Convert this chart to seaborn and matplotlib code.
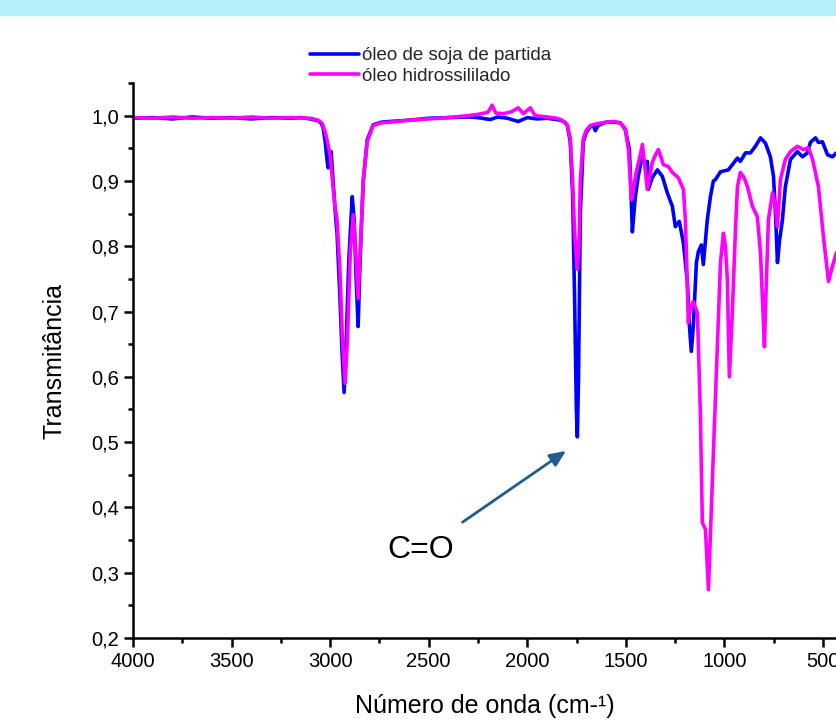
import numpy as np
import pandas as pd
import matplotlib.pyplot as plt
import seaborn as sns
from matplotlib.patches import Rectangle
from matplotlib.ticker import MultipleLocator

# espectro FTIR - óleo de soja de partida (azul)
wn_soja = [4000, 3900, 3800, 3700, 3600, 3500, 3400, 3300, 3200, 3152, 3100, 3060, 3045, 3036,
           3025, 3015, 3010, 3003, 2995, 2985, 2975, 2965, 2950, 2940, 2929, 2918, 2905, 2888,
           2878, 2868, 2858, 2848, 2832, 2812, 2782, 2740, 2700, 2600, 2500, 2400, 2300, 2250,
           2188, 2150, 2100, 2046, 2000, 1950, 1900, 1850, 1830, 1810, 1797, 1782, 1770, 1760,
           1751, 1746, 1740, 1731, 1716, 1700, 1680, 1665, 1655, 1640, 1600, 1560, 1528, 1503,
           1482, 1472, 1467, 1452, 1437, 1416, 1401, 1391, 1386, 1366, 1340, 1315, 1290, 1264,
           1249, 1229, 1208, 1188, 1178, 1168, 1158, 1142, 1132, 1117, 1107, 1087, 1071, 1056,
           1046, 1020, 980, 934, 919, 893, 868, 843, 817, 792, 767, 751, 741, 731, 720, 706, 691,
           665, 630, 604, 579, 564, 538, 523, 503, 477, 452, 432]
t_soja = [0.996, 0.997, 0.995, 0.998, 0.996, 0.997, 0.995, 0.997, 0.996, 0.997, 0.995, 0.992,
          0.988, 0.982, 0.96, 0.93, 0.92, 0.935, 0.945, 0.9, 0.856, 0.82, 0.72, 0.64, 0.576,
          0.66, 0.78, 0.876, 0.84, 0.75, 0.677, 0.78, 0.9, 0.963, 0.986, 0.99, 0.991, 0.993,
          0.996, 0.997, 0.998, 0.997, 0.994, 0.998, 0.996, 0.991, 0.997, 0.995, 0.996, 0.994,
          0.993, 0.99, 0.985, 0.96, 0.88, 0.72, 0.55, 0.508, 0.6, 0.85, 0.96, 0.975, 0.983,
          0.985, 0.977, 0.985, 0.99, 0.99, 0.989, 0.979, 0.948, 0.867, 0.822, 0.876, 0.907,
          0.94, 0.922, 0.93, 0.887, 0.905, 0.917, 0.907, 0.882, 0.861, 0.83, 0.838, 0.805,
          0.745, 0.68, 0.639, 0.677, 0.775, 0.792, 0.802, 0.772, 0.84, 0.876, 0.9, 0.902, 0.914,
          0.917, 0.935, 0.93, 0.943, 0.943, 0.953, 0.966, 0.958, 0.937, 0.907, 0.85, 0.775,
          0.81, 0.84, 0.891, 0.933, 0.945, 0.937, 0.943, 0.959, 0.966, 0.959, 0.96, 0.94,
          0.937, 0.943]

# espectro FTIR - óleo hidrossililado (magenta)
wn_hidro = [4000, 3900, 3800, 3700, 3600, 3500, 3400, 3300, 3200, 3100, 3060, 3040, 3025, 3010,
            3000, 2985, 2975, 2965, 2950, 2938, 2924, 2912, 2898, 2883, 2872, 2858, 2848, 2832,
            2812, 2782, 2740, 2700, 2600, 2500, 2400, 2300, 2250, 2200, 2178, 2160, 2120, 2080,
            2046, 2020, 1985, 1960, 1900, 1850, 1830, 1810, 1797, 1782, 1770, 1760, 1746, 1738,
            1731, 1716, 1700, 1680, 1640, 1600, 1560, 1528, 1503, 1487, 1477, 1472, 1462, 1450,
            1430, 1416, 1405, 1391, 1380, 1366, 1350, 1335, 1320, 1310, 1284, 1264, 1234, 1208,
            1198, 1190, 1183, 1173, 1158, 1137, 1122, 1112, 1096, 1081, 1061, 1036, 1020, 1005,
            995, 985, 975, 960, 944, 934, 919, 900, 883, 858, 833, 817, 797, 790, 777, 756, 741,
            731, 716, 691, 665, 630, 599, 574, 553, 523, 498, 472, 447, 432]
t_hidro = [0.997, 0.996, 0.998, 0.996, 0.997, 0.996, 0.998, 0.996, 0.997, 0.996, 0.993, 0.988,
           0.975, 0.955, 0.94, 0.89, 0.86, 0.84, 0.76, 0.66, 0.59, 0.66, 0.79, 0.848, 0.8, 0.72,
           0.79, 0.9, 0.96, 0.985, 0.989, 0.99, 0.993, 0.995, 0.997, 1.0, 1.002, 1.005, 1.016,
           1.004, 1.003, 1.006, 1.012, 1.003, 1.012, 1.0, 0.998, 0.996, 0.994, 0.99, 0.986,
           0.965, 0.9, 0.82, 0.765, 0.8, 0.9, 0.965, 0.978, 0.985, 0.988, 0.99, 0.991, 0.989,
           0.98, 0.948, 0.9, 0.871, 0.885, 0.91, 0.935, 0.956, 0.925, 0.887, 0.905, 0.928, 0.94,
           0.948, 0.935, 0.925, 0.922, 0.913, 0.905, 0.887, 0.84, 0.76, 0.683, 0.705, 0.715,
           0.698, 0.545, 0.377, 0.366, 0.274, 0.443, 0.646, 0.775, 0.82, 0.8, 0.749, 0.6, 0.698,
           0.825, 0.891, 0.913, 0.905, 0.891, 0.861, 0.845, 0.79, 0.646, 0.72, 0.84, 0.882,
           0.861, 0.83, 0.902, 0.933, 0.945, 0.953, 0.948, 0.951, 0.933, 0.891, 0.815, 0.746,
           0.775, 0.79]

series_names = ["óleo de soja de partida", "óleo hidrossililado"]
series_colors = ["#0000ff", "#ff00ff"]

xticks = [4000, 3500, 3000, 2500, 2000, 1500, 1000, 500]
yticks = [0.2, 0.3, 0.4, 0.5, 0.6, 0.7, 0.8, 0.9, 1.0]
ytick_labels = ["0,2", "0,3", "0,4", "0,5", "0,6", "0,7", "0,8", "0,9", "1,0"]

df = pd.concat([
    pd.DataFrame({"wn": wn_soja, "T": t_soja, "amostra": series_names[0]}),
    pd.DataFrame({"wn": wn_hidro, "T": t_hidro, "amostra": series_names[1]}),
])

sns.set_theme(style="ticks")
plt.rcParams["font.family"] = ["Liberation Sans", "DejaVu Sans"]

W, H = 836, 721
fig = plt.figure(figsize=(W / 100, H / 100), dpi=100)
ax = fig.add_axes([133 / W, 1 - 638 / H, 1 - 133 / W, (638 - 83) / H])

sns.lineplot(data=df, x="wn", y="T", hue="amostra", palette=series_colors,
             linewidth=2.6, sort=False, ax=ax, legend=False)

ax.set_xlim(4000, 434)
ax.set_ylim(0.2, 1.05)
ax.set_xticks(xticks)
ax.set_xticklabels([str(v) for v in xticks])
ax.set_yticks(yticks)
ax.set_yticklabels(ytick_labels)
ax.xaxis.set_minor_locator(MultipleLocator(250))
ax.yaxis.set_minor_locator(MultipleLocator(0.05))
ax.tick_params(which="major", length=6.5, width=1.8, labelsize=14.5, color="black", labelcolor="black")
ax.tick_params(which="minor", length=3.5, width=1.8, color="black")
for s in ["top", "right"]:
    ax.spines[s].set_visible(False)
for s in ["left", "bottom"]:
    ax.spines[s].set_linewidth(1.8)
    ax.spines[s].set_color("black")

ax.set_xlabel("Número de onda (cm-¹)", fontsize=18, labelpad=17, color="black")
ax.set_ylabel("Transmitância", fontsize=18, labelpad=18, color="black")

# anotação da carbonila
ax.annotate("", xy=(1792, 0.489), xytext=(2340, 0.375),
            arrowprops=dict(arrowstyle="-|>,head_length=0.8,head_width=0.35",
                            color="#1f5c8f", lw=2))
ax.text(2543, 0.335, "C=O", fontsize=23, ha="center", va="center", color="black")

lines = ax.get_lines()
fig.legend(lines[:2], series_names, loc="upper left", bbox_to_anchor=(310 / W, 1 - 47 / H),
           frameon=False, fontsize=13.5, handlelength=2.6, handletextpad=0.2,
           labelspacing=0.2, borderpad=0, borderaxespad=0)

# faixa azul no topo
fig.patches.append(Rectangle((0, 1 - 15 / H), 1, 15 / H, transform=fig.transFigure,
                             color="#b5edfb", zorder=0))

fig.savefig("out.png", dpi=100)
